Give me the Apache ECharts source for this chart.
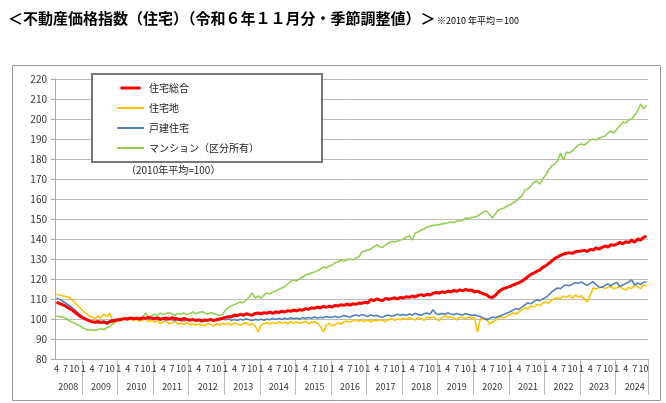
<!DOCTYPE html>
<html><head><meta charset="utf-8">
<script src="https://cdn.jsdelivr.net/npm/echarts@6/dist/echarts.min.js"></script>
<style>html,body{margin:0;padding:0;background:#fff}#c{width:666px;height:403px}</style>
</head><body><div id="c"></div>
<script>
const seriesNames = ['住宅総合','住宅地','戸建住宅','マンション（区分所有）'];
const sogo = [
108.5,107.8,107.2,106.5,105.5,104.8,103.6,102.5,101.3,
100.5,99.8,99.2,98.6,98.4,98.8,98.2,98.5,97.8,98.6,99.0,99.4,
99.5,99.8,100.2,99.9,100.5,100.1,100.4,100.0,100.6,100.3,100.8,100.5,
100.2,100.6,99.8,100.3,100.5,99.9,100.7,100.2,100.0,99.6,100.3,99.8,
99.4,99.8,99.2,99.6,99.0,99.5,99.3,99.8,99.2,99.6,100.0,100.4,
100.8,101.2,101.0,102.0,101.6,102.4,101.8,102.6,102.2,101.9,102.8,103.0,
102.6,103.2,102.9,103.4,102.8,103.6,103.2,103.9,103.5,104.2,103.8,104.5,
104.0,104.7,104.4,105.2,104.8,105.6,105.3,106.0,105.5,106.3,105.9,106.4,
106.0,106.8,106.5,107.2,106.8,107.5,106.9,107.6,107.3,108.0,107.8,108.4,
108.0,109.8,109.2,110.0,109.5,109.2,110.3,109.9,110.2,110.6,110.0,110.8,
110.5,111.2,110.8,111.5,111.0,111.8,112.2,111.6,112.4,112.0,112.8,113.3,
112.9,113.6,113.2,114.0,113.5,114.3,113.8,114.6,114.1,114.8,114.3,114.5,
113.5,113.9,113.2,112.6,112.2,111.0,110.8,111.8,113.5,114.6,115.3,115.8,
116.3,117.0,117.6,118.2,118.9,120.0,121.2,122.3,123.0,123.8,124.5,125.8,
126.6,127.8,128.9,130.2,131.0,131.8,132.5,132.9,133.2,132.8,133.6,133.9,
134.0,134.3,133.8,134.8,134.5,135.6,134.9,135.8,136.5,136.0,137.1,136.8,
137.5,138.3,137.6,138.6,138.2,139.5,138.4,140.0,139.4,140.8,141.5];
const land = [
112.5,112.0,111.6,111.2,111.0,110.0,108.5,107.0,105.5,
104.0,102.8,101.5,101.0,100.2,101.5,100.5,102.5,101.0,103.0,98.5,99.0,
100.5,99.8,101.0,99.6,100.2,99.0,100.3,98.8,99.5,100.2,98.6,99.4,
98.5,99.2,97.8,98.6,99.0,97.5,98.2,98.8,97.3,98.0,97.2,98.4,
97.0,97.8,96.8,97.5,97.0,96.6,97.8,97.2,96.5,97.6,97.0,97.8,
97.3,97.9,97.0,98.0,97.5,96.8,97.6,98.2,97.0,97.8,96.5,93.5,
97.0,97.8,98.2,97.5,98.3,97.6,98.6,97.9,98.4,97.6,98.8,98.0,
98.5,97.8,98.4,98.9,97.6,98.3,98.6,97.9,96.5,93.5,96.8,97.8,
96.5,97.3,98.0,97.5,98.6,99.0,98.3,99.2,99.6,98.8,99.5,98.7,
99.5,98.6,99.4,99.0,99.8,99.2,98.8,99.6,100.2,99.4,100.0,99.6,
100.4,99.8,100.6,100.0,99.5,100.8,100.2,99.4,101.0,100.4,101.2,100.2,
99.0,100.8,101.5,100.6,101.2,100.4,99.6,101.0,100.6,100.2,101.0,100.4,
100.8,93.5,100.5,99.8,100.6,97.5,98.5,99.2,100.5,101.0,100.6,101.6,
102.2,103.0,102.5,103.5,104.6,105.8,105.0,106.5,106.0,107.2,106.6,108.0,
108.5,107.8,109.5,110.2,110.8,110.0,111.5,110.8,111.8,110.4,112.0,111.0,
111.6,110.2,108.5,111.8,115.5,115.0,115.6,116.0,115.3,115.8,116.2,115.2,
115.6,116.4,115.0,114.6,115.8,115.2,117.0,116.2,115.0,117.2,116.5];
const house = [
110.5,109.8,109.0,108.0,107.0,106.0,104.8,103.5,102.0,
101.0,100.0,99.2,98.5,98.3,98.0,98.6,99.0,98.4,99.2,99.6,99.8,
100.0,100.4,100.0,100.6,100.2,100.8,100.3,100.6,100.1,100.5,100.0,100.4,
99.8,100.2,99.5,99.9,99.4,100.0,99.6,99.2,99.8,99.4,99.0,99.6,
99.2,99.8,99.3,99.6,99.0,99.7,99.4,99.9,99.3,99.8,99.5,100.0,
99.6,100.0,99.4,99.8,99.3,99.9,99.5,100.1,99.6,99.2,99.8,99.5,
99.9,99.4,100.0,99.6,100.2,99.7,100.3,99.8,100.4,100.0,100.6,100.1,
100.5,100.0,100.7,100.2,100.8,100.4,101.0,100.5,100.9,100.6,101.2,100.8,
100.9,101.4,100.8,101.2,101.8,101.3,101.0,101.6,102.0,101.5,102.2,101.7,
101.4,102.0,101.5,101.8,101.2,100.8,101.6,102.0,101.4,101.8,102.4,101.9,
102.3,101.8,102.5,102.0,102.8,102.2,101.9,102.6,103.0,102.4,104.6,102.6,
102.2,102.8,102.4,103.0,102.5,102.1,102.7,102.3,102.0,102.6,102.2,101.8,
102.0,101.6,101.2,100.4,99.6,100.2,101.0,100.6,101.2,101.8,102.4,103.0,
103.6,104.5,105.2,104.8,106.0,107.2,108.0,107.6,108.8,109.5,109.2,110.0,
110.8,112.0,113.5,114.6,115.5,115.2,116.5,117.0,116.6,117.4,118.2,117.8,
118.5,117.6,116.8,117.8,118.6,117.2,116.0,115.8,116.8,117.5,116.5,117.8,
118.2,116.2,117.0,117.8,118.5,119.6,117.0,118.0,117.2,118.4,118.6];
const mansion = [
101.5,101.2,101.0,100.5,99.5,98.5,98.0,97.2,96.5,
95.5,94.8,94.5,94.6,94.2,94.8,95.2,94.6,95.8,96.2,97.5,98.5,
100.0,99.6,100.2,99.8,100.5,100.0,100.8,100.2,100.5,103.0,100.8,101.5,
102.5,101.8,103.0,102.2,102.8,103.2,102.5,101.9,102.8,102.4,103.0,102.2,
102.8,103.5,102.6,103.2,103.8,103.0,102.5,103.2,102.8,102.2,101.8,102.2,
104.5,105.8,106.5,107.2,107.8,108.5,108.2,109.5,111.0,113.0,110.5,111.5,
110.5,112.0,113.0,112.5,113.5,114.0,114.8,115.5,116.2,117.5,119.0,119.5,
119.0,120.2,121.0,122.0,122.5,123.0,123.5,124.2,125.0,126.0,125.5,126.5,
127.0,128.2,128.5,129.5,129.0,129.5,130.0,129.5,130.5,131.0,133.5,134.0,
134.5,135.0,136.0,137.0,136.2,135.8,137.0,138.0,138.8,138.5,139.0,139.5,
140.0,141.0,141.5,139.5,143.0,143.5,144.5,145.0,146.0,146.5,146.8,147.0,
147.2,147.5,147.8,148.0,148.5,148.2,149.0,148.8,149.5,150.5,150.2,150.8,
151.0,151.5,152.5,153.5,154.0,152.5,150.5,152.5,154.5,155.0,155.5,156.5,
157.0,158.0,159.0,160.5,161.5,164.5,165.0,166.5,168.5,169.0,167.5,170.0,
172.0,174.5,176.5,177.5,179.0,183.0,179.5,183.5,183.0,184.0,185.5,187.0,
187.5,187.0,188.0,189.5,190.0,189.5,190.5,191.0,191.5,193.0,194.0,193.0,
195.0,196.5,198.5,198.0,199.5,200.0,202.0,204.0,207.5,205.0,207.0];
const startYear = 2008, startMonth = 4, endYear = 2024, endMonth = 11;
const months = [], years = [];
for (let y = startYear, m = startMonth; y < endYear || (y === endYear && m <= endMonth); ) {
  months.push(m); years.push(y);
  m++; if (m > 12) { m = 1; y++; }
}
const cats = months.map((m, i) => years[i] + '-' + m);
const font = 'Noto Sans CJK JP';
const chart = echarts.init(document.getElementById('c'));
const yearLabelIdx = i => (years[i] === startYear ? months[i] === 8 : months[i] === 7);
const colors = ['#ff0000', '#ffc000', '#4f81bd', '#92d050'];
chart.setOption({
  animation: false,
  textStyle: { fontFamily: font },
  grid: { left: 55, right: 18, top: 79, bottom: 44 },
  legend: {
    orient: 'vertical', left: 92, top: 74, itemGap: 10, itemWidth: 27, itemHeight: 3,
    borderColor: '#777', borderWidth: 2, padding: [9, 63, 9, 25],
    textStyle: { fontSize: 10, color: '#222', fontFamily: font },
    data: seriesNames.map((n, k) => ({ name: n, icon: k === 0 ? 'path://M0,0L27,0L27,4L0,4Z' : 'path://M0,0L27,0L27,2L0,2Z' })),
    backgroundColor: '#fff'
  },
  xAxis: [{
    type: 'category', data: cats, boundaryGap: true,
    axisLine: { lineStyle: { color: '#aaa' } },
    axisTick: { show: false },
    axisLabel: { interval: i => [1,4,7,10].includes(months[i]), formatter: (v, i) => String(months[i]),
      fontSize: 9, color: '#333', margin: 5 }
  }, {
    type: 'category', data: cats, position: 'bottom', offset: 15, boundaryGap: true,
    axisLine: { show: false }, axisTick: { show: false },
    axisLabel: { interval: i => yearLabelIdx(i), formatter: (v, i) => String(years[i]), fontSize: 9, color: '#333' }
  }],
  yAxis: {
    type: 'value', min: 80, max: 220, interval: 10,
    axisLine: { show: true, lineStyle: { color: '#aaa' } },
    axisTick: { show: true, length: 4, lineStyle: { color: '#aaa' } },
    axisLabel: { fontSize: 10, color: '#333' },
    splitLine: { lineStyle: { color: '#bbb' } }
  },
  series: [
    { name: seriesNames[0], type: 'line', data: sogo, symbol: 'none', z: 5, lineStyle: { width: 3, color: colors[0] }, itemStyle: { color: colors[0] } },
    { name: seriesNames[1], type: 'line', data: land, symbol: 'none', z: 3, lineStyle: { width: 1.6, color: colors[1] }, itemStyle: { color: colors[1] } },
    { name: seriesNames[2], type: 'line', data: house, symbol: 'none', z: 4, lineStyle: { width: 1.6, color: colors[2] }, itemStyle: { color: colors[2] } },
    { name: seriesNames[3], type: 'line', data: mansion, symbol: 'none', z: 2, lineStyle: { width: 1.6, color: colors[3] }, itemStyle: { color: colors[3] } }
  ]
});
// year separators, positioned from the category scale
const p0 = chart.convertToPixel({ xAxisIndex: 0 }, cats[0]);
const p1 = chart.convertToPixel({ xAxisIndex: 0 }, cats[1]);
const band = p1 - p0;
const yBase = chart.convertToPixel({ yAxisIndex: 0 }, 80);
const seps = [];
months.forEach((m, i) => {
  if (m === 1 || i === months.length - 1) {
    const x = Math.round(chart.convertToPixel({ xAxisIndex: 0 }, cats[i]) + (m === 1 ? -band / 2 : band / 2)) + 0.5;
    seps.push({ type: 'line', shape: { x1: x, y1: yBase, x2: x, y2: yBase + 36 }, style: { stroke: '#bbb', lineWidth: 1 }, silent: true });
  }
});
chart.setOption({
  graphic: [
    { type: 'rect', left: 10, top: 63, shape: { width: 648, height: 335 }, style: { fill: 'none', stroke: '#999', lineWidth: 1 }, silent: true, z: -1 },
    { type: 'text', left: 8, top: 11, style: { text: '＜不動産価格指数（住宅）（令和６年１１月分・季節調整値）＞', font: 'bold 15px "Noto Sans CJK JP"', fill: '#000' } },
    { type: 'text', left: 437, top: 16, style: { text: '※2010 年平均＝100', font: '9px "Noto Sans CJK JP"', fill: '#000' } },
    { type: 'text', left: 120, top: 163, z: 10, style: { text: '（2010年平均=100）', font: '10px "Noto Sans CJK JP"', fill: '#222', backgroundColor: '#fff', padding: [2, 6] } }
  ].concat(seps)
});
</script></body></html>
